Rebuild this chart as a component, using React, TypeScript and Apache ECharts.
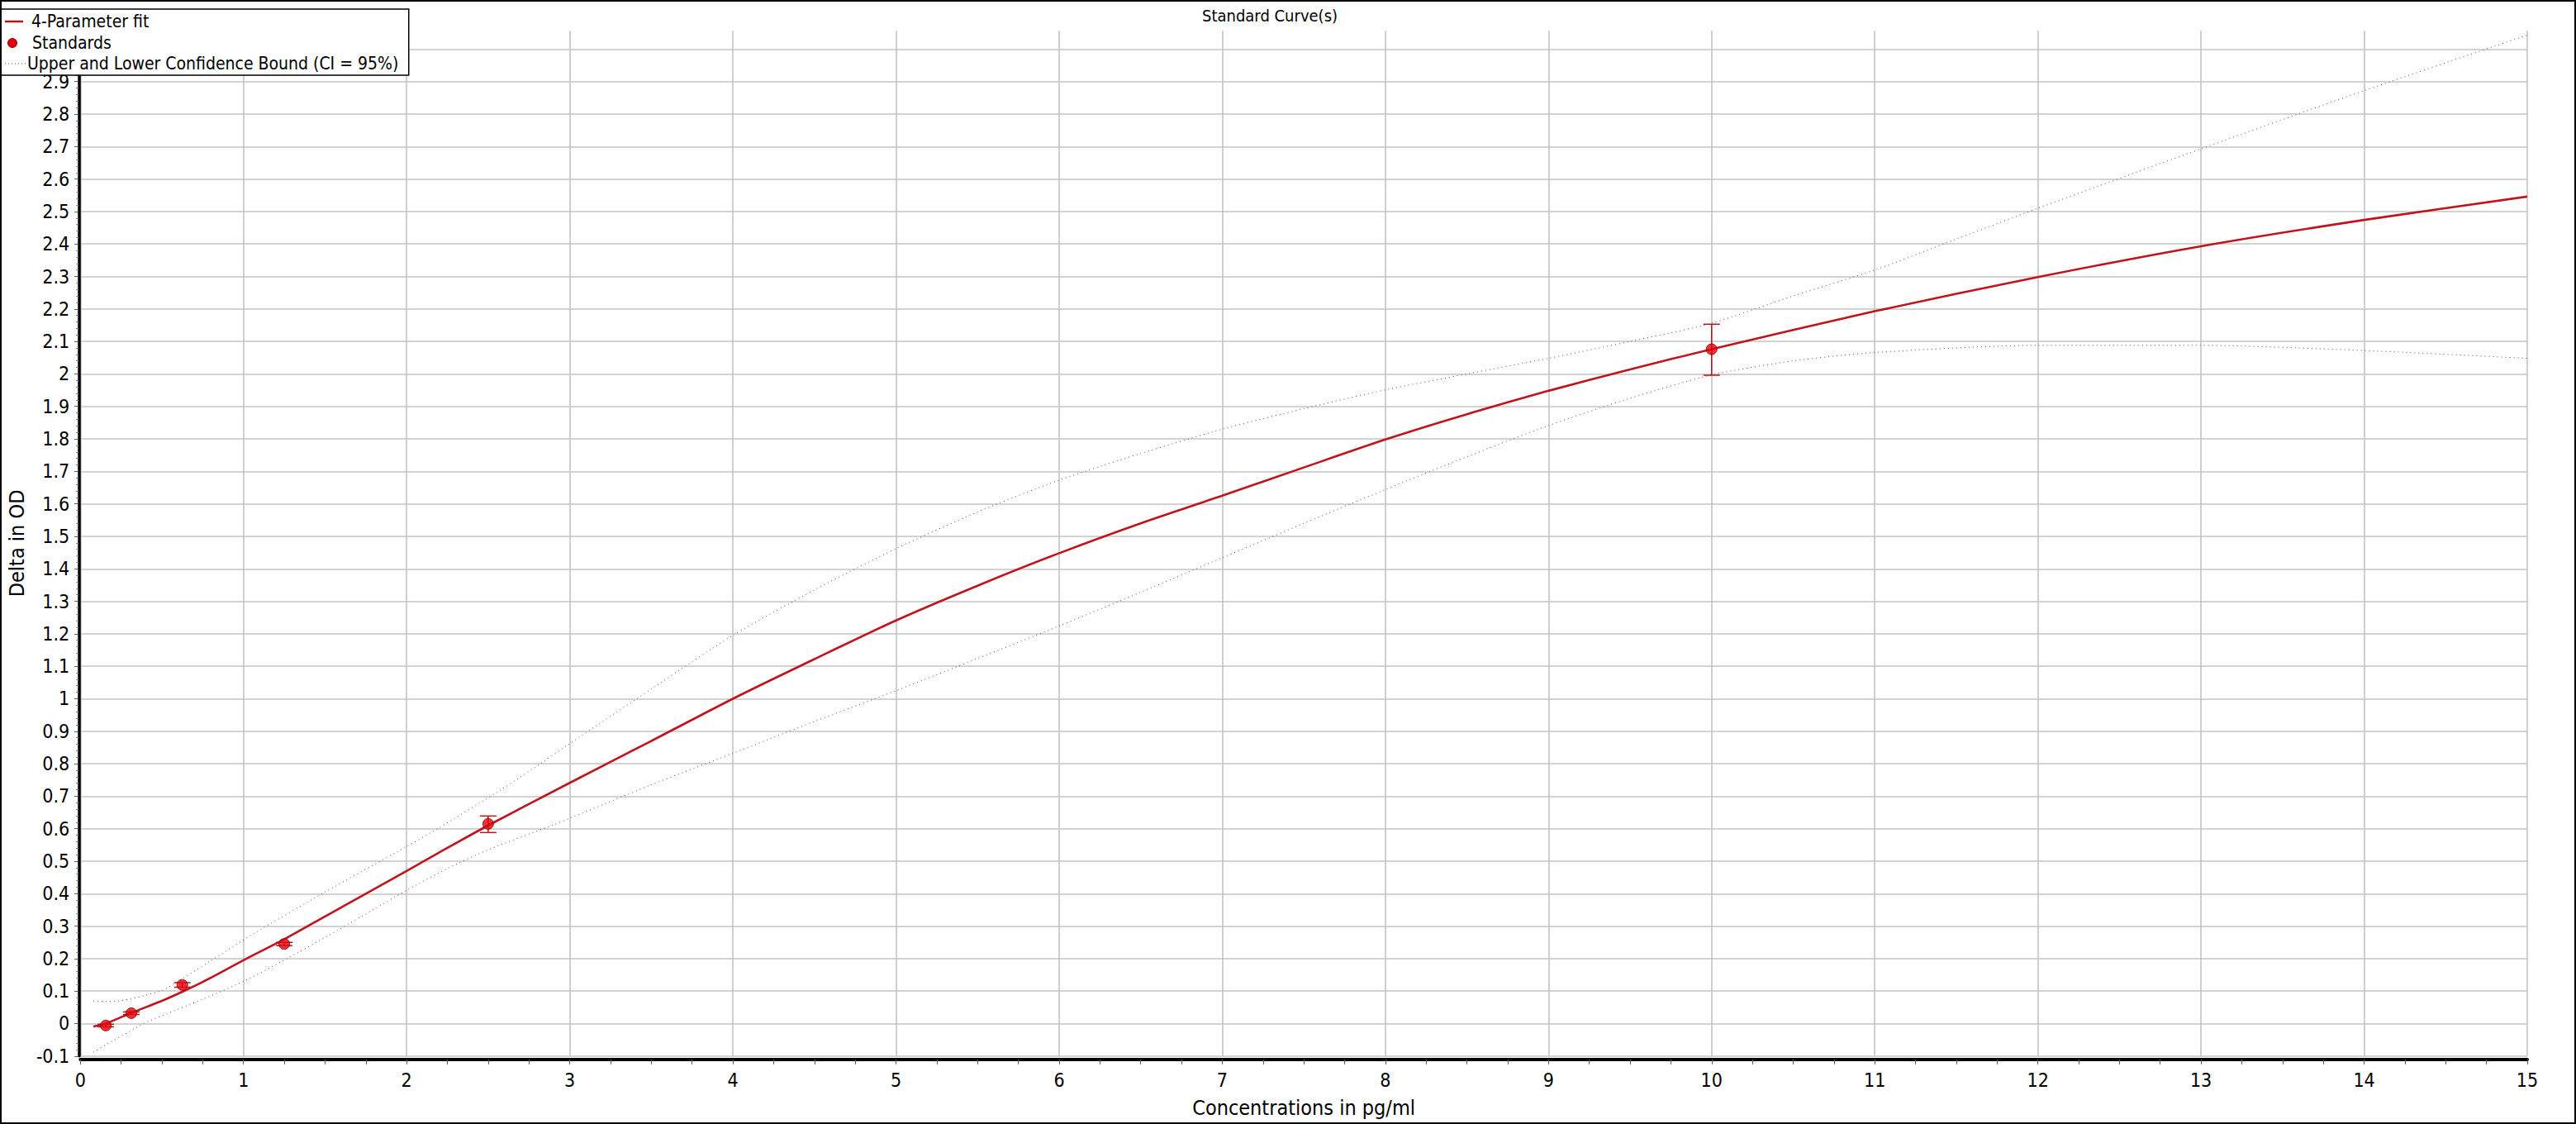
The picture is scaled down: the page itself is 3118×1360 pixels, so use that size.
import React, { useEffect, useRef } from "react";
import * as echarts from "echarts";

// ---- Data ----
const standardConc = [0.156, 0.3125, 0.625, 1.25, 2.5, 10];
const standardOD = [-0.006, 0.032, 0.119, 0.245, 0.615, 2.076];
const standardLow = [-0.01, 0.028, 0.112, 0.24, 0.588, 1.996];
const standardHigh = [-0.002, 0.036, 0.126, 0.25, 0.639, 2.153];

const fitConc = [0.08, 0.156, 0.3125, 0.5, 0.625, 0.75, 1.0, 1.25, 1.5, 2.0, 2.19, 2.5, 3.0, 3.5, 4.0, 4.5, 5.0, 5.5, 6.0, 6.5, 7.0, 7.5, 8.0, 8.5, 9.0, 9.5, 10.0, 11.0, 12.0, 13.0, 14.0, 15.0];
const fitOD = [-0.009, 0.0, 0.033, 0.07, 0.098, 0.128, 0.195, 0.26, 0.33, 0.47, 0.524, 0.61, 0.741, 0.87, 1.0, 1.122, 1.241, 1.348, 1.448, 1.54, 1.625, 1.712, 1.798, 1.876, 1.948, 2.014, 2.076, 2.193, 2.298, 2.393, 2.474, 2.546];

const upperConc = [0.08, 0.15, 0.22, 0.3, 0.4, 0.506, 0.625, 0.79, 1.06, 1.5, 2.0, 2.19, 2.547, 2.79, 3.0, 3.5, 4.0, 4.5, 5.0, 5.5, 6.0, 6.5, 7.0, 7.5, 8.0, 8.5, 9.0, 9.5, 10.0, 10.5, 11.0, 11.5, 12.0, 13.0, 14.0, 15.0];
const upperOD = [0.07, 0.068, 0.069, 0.075, 0.087, 0.103, 0.138, 0.19, 0.276, 0.405, 0.545, 0.6, 0.71, 0.79, 0.862, 1.03, 1.195, 1.335, 1.462, 1.575, 1.673, 1.755, 1.83, 1.893, 1.951, 2.0, 2.048, 2.1, 2.156, 2.24, 2.32, 2.415, 2.51, 2.693, 2.872, 3.043];

const lowerConc = [0.08, 0.2, 0.3, 0.386, 0.5, 0.75, 1.0, 1.23, 1.5, 2.0, 2.26, 2.5, 2.9, 3.0, 3.5, 4.0, 4.5, 5.0, 5.5, 6.0, 6.5, 7.0, 7.5, 8.0, 8.5, 9.0, 9.5, 10.0, 10.5, 11.0, 12.0, 13.0, 14.0, 15.0];
const lowerOD = [-0.088, -0.053, -0.025, 0.0, 0.024, 0.075, 0.13, 0.19, 0.265, 0.41, 0.48, 0.535, 0.612, 0.632, 0.735, 0.832, 0.93, 1.025, 1.124, 1.224, 1.328, 1.434, 1.54, 1.644, 1.745, 1.841, 1.925, 1.997, 2.04, 2.066, 2.088, 2.088, 2.072, 2.048];

const xMin = 0;
const xMax = 15;
const xInterval = 1;
const yMin = -0.1;
const yMax = 3.057;
const yInterval = 0.1;
const yLastLabel = 2.9;

const titleText = "Standard Curve(s)";
const xName = "Concentrations in pg/ml";
const yName = "Delta in OD";
const fitName = "4-Parameter fit";
const stdName = "Standards";
const ciName = "Upper and Lower Confidence Bound (CI = 95%)";

const FONT = "'DejaVu Sans Condensed', 'DejaVu Sans', sans-serif";

const FIT_COLOR = "#c0141c";
const CI_COLOR = "#8a3030";
const PT_COLOR = "#e8000a";
const PT_BORDER = "#7a0000";

const zip = (a: number[], b: number[]) => a.map((v, i) => [v, b[i]]);

export default function App() {
  const ref = useRef<HTMLDivElement>(null);

  useEffect(() => {
    document.body.style.margin = "0";
    if (!ref.current) return;
    const chart = echarts.init(ref.current, undefined, { renderer: "svg" });

    const gridColor = "#c4c4c4";
    const ciStyle = { color: CI_COLOR, width: 1, type: [1, 4] as any };
    const legendText = (text: string, x: number, y: number) => ({
      type: "text",
      z: 51,
      silent: true,
      x,
      y,
      style: {
        text,
        fontFamily: FONT,
        fontSize: 21,
        fill: "#000",
        verticalAlign: "middle",
        align: "left",
      },
    });

    chart.setOption({
      animation: false,
      backgroundColor: "#ffffff",
      textStyle: { fontFamily: FONT },
      title: {
        text: titleText,
        left: 1537,
        top: 9,
        textAlign: "center",
        padding: 0,
        textStyle: { fontFamily: FONT, fontSize: 20, fontWeight: "normal", color: "#000" },
      },
      grid: { left: 97, right: 59, top: 37, bottom: 82.2 },
      xAxis: {
        type: "value",
        min: xMin,
        max: xMax,
        interval: xInterval,
        offset: 4,
        name: xName,
        nameLocation: "middle",
        nameGap: 46,
        nameTextStyle: { fontFamily: FONT, fontSize: 25, color: "#000" },
        axisLine: { show: true, onZero: false, lineStyle: { color: "#000", width: 4 } },
        axisTick: { show: true, length: 6, lineStyle: { color: "#555", width: 1 } },
        minorTick: { show: true, splitNumber: 4, length: 6, lineStyle: { color: "#555", width: 1 } },
        axisLabel: { fontFamily: FONT, fontSize: 23, color: "#000", margin: 14 },
        splitLine: { show: true, lineStyle: { color: gridColor, width: 1.6 } },
      },
      yAxis: {
        type: "value",
        min: yMin,
        max: yMax,
        interval: yInterval,
        offset: 2,
        name: yName,
        nameLocation: "middle",
        nameGap: 57,
        nameTextStyle: { fontFamily: FONT, fontSize: 25, color: "#000" },
        axisLine: { show: true, onZero: false, lineStyle: { color: "#000", width: 3.5 } },
        axisTick: { show: true, length: 5, lineStyle: { color: "#555", width: 1 } },
        minorTick: { show: true, splitNumber: 5, length: 3, lineStyle: { color: "#777", width: 1 } },
        axisLabel: {
          fontFamily: FONT,
          fontSize: 23,
          color: "#000",
          margin: 11,
          showMaxLabel: false,
          formatter: (v: number) => (v > yLastLabel + 0.05 ? "" : String(Math.round(v * 10) / 10)),
        },
        splitLine: { show: true, showMaxLine: false, lineStyle: { color: gridColor, width: 1.6 } },
      },
      series: [
        {
          name: ciName,
          type: "line",
          data: zip(upperConc, upperOD),
          symbol: "none",
          smooth: 0.25,
          lineStyle: ciStyle,
          itemStyle: { color: CI_COLOR },
          z: 2,
        },
        {
          name: ciName,
          type: "line",
          data: zip(lowerConc, lowerOD),
          symbol: "none",
          smooth: 0.25,
          lineStyle: ciStyle,
          itemStyle: { color: CI_COLOR },
          z: 2,
        },
        {
          name: fitName,
          type: "line",
          data: zip(fitConc, fitOD),
          symbol: "none",
          smooth: 0.25,
          lineStyle: { color: FIT_COLOR, width: 2.6 },
          itemStyle: { color: FIT_COLOR },
          z: 3,
        },
        {
          name: "errorBars",
          type: "custom",
          data: standardConc.map((c, i) => [c, standardLow[i], standardHigh[i]]),
          encode: { x: 0, y: [1, 2] },
          renderItem: (params: any, api: any) => {
            const x = api.value(0);
            const pLo = api.coord([x, api.value(1)]);
            const pHi = api.coord([x, api.value(2)]);
            const w = 10;
            const style = { stroke: "#b3161b", lineWidth: 1.5, fill: "none" };
            return {
              type: "group",
              children: [
                { type: "line", shape: { x1: pLo[0], y1: pLo[1], x2: pHi[0], y2: pHi[1] }, style },
                { type: "line", shape: { x1: pLo[0] - w, y1: pLo[1], x2: pLo[0] + w, y2: pLo[1] }, style },
                { type: "line", shape: { x1: pHi[0] - w, y1: pHi[1], x2: pHi[0] + w, y2: pHi[1] }, style },
              ],
            };
          },
          z: 4,
        },
        {
          name: stdName,
          type: "scatter",
          data: zip(standardConc, standardOD),
          symbol: "circle",
          symbolSize: 13,
          itemStyle: { color: PT_COLOR, borderColor: PT_BORDER, borderWidth: 1 },
          z: 5,
        },
      ],
      graphic: [
        // legend box
        {
          type: "rect",
          z: 50,
          silent: true,
          shape: { x: 0.75, y: 11, width: 494, height: 80 },
          style: { fill: "#fff", stroke: "#000", lineWidth: 1.5 },
        },
        {
          type: "line",
          z: 51,
          silent: true,
          shape: { x1: 6, y1: 26, x2: 28, y2: 26 },
          style: { stroke: FIT_COLOR, lineWidth: 2.5 },
        },
        legendText(fitName, 38, 26),
        {
          type: "circle",
          z: 51,
          silent: true,
          shape: { cx: 15, cy: 52, r: 5.5 },
          style: { fill: PT_COLOR, stroke: PT_BORDER, lineWidth: 1 },
        },
        legendText(stdName, 39, 52),
        {
          type: "line",
          z: 51,
          silent: true,
          shape: { x1: 6, y1: 77, x2: 32, y2: 77 },
          style: { stroke: CI_COLOR, lineWidth: 1, lineDash: [1, 3] },
        },
        legendText(ciName, 33, 77),
        // outer frame
        {
          type: "rect",
          silent: true,
          z: 100,
          shape: { x: 1, y: 1, width: 3116, height: 1358 },
          style: { fill: "none", stroke: "#000", lineWidth: 2 },
        },
      ],
    });

    return () => chart.dispose();
  }, []);

  return <div ref={ref} style={{ width: 3118, height: 1360 }} />;
}
